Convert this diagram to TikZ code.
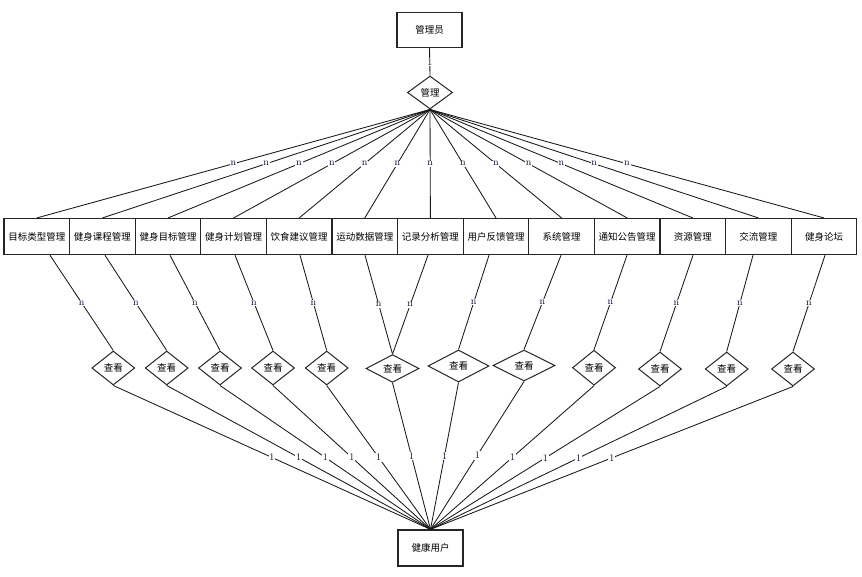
\documentclass[tikz,border=0pt]{standalone}
\usepackage{fontspec}
\newfontfamily\cjk{Noto Sans CJK SC}
\usetikzlibrary{shapes.geometric,calc}
\begin{document}
\begin{tikzpicture}[x=1pt,y=-1pt,
  entity/.style={draw=black!85, line width=1.3pt, minimum width=65.6pt, minimum height=36pt, inner sep=0pt, fill=white, font=\cjk\fontsize{9.5}{10}\selectfont},
  rel/.style={diamond, draw=black!85, line width=1pt, inner sep=0pt, fill=white, font=\cjk\fontsize{9.5}{10}\selectfont},
  lbl/.style={fill=white, inner sep=0.8pt, text=black!75!blue, font=\fontsize{10}{10}\selectfont},
  conn/.style={line width=0.85pt, draw=black!90}]
\fill[white] (0,0) rectangle (862,577);
\useasboundingbox (0,0) rectangle (862,577);

% admin and relation
\node[entity, minimum width=65pt, minimum height=35pt] (admin) at (429.5,30) {管理员};
\node[rel, minimum width=45pt, minimum height=33pt] (manage) at (430,92.5) {管理};
\draw[conn] (admin.south) -- node[lbl]{1} (manage.north);

% row of entities
\foreach \t [count=\i] in {目标类型管理,健身课程管理,健身目标管理,健身计划管理,饮食建议管理,运动数据管理,记录分析管理,用户反馈管理,系统管理,通知公告管理,资源管理,交流管理,健身论坛} {
  \node[entity] (b\i) at ({4+65.6*(\i-0.5)},236.6) {\t};
}
\foreach \i in {1,...,13} {
  \draw[conn] (manage.south) -- node[lbl]{n} (b\i.north);
}

% view relations
\foreach \x/\y/\w/\h [count=\i] in {
  113.3/368/43pt/34pt, 166.7/368/43pt/34pt, 220/368/43pt/34pt, 273/368/43pt/34pt,
  326.7/368/43pt/34pt, 392.5/368.5/53pt/27pt, 458.5/366/61pt/32pt, 524/365.5/62pt/31pt,
  594/367.7/43pt/35pt, 660/369/43pt/34pt, 726.7/369/43pt/34pt, 793/369/43pt/34pt} {
  \node[rel, minimum width=\w, minimum height=\h] (d\i) at (\x,\y) {查看};
}

% health user
\node[entity, minimum width=65pt, minimum height=36pt] (user) at (430.5,548) {健康用户};

% entity -> view relation
\foreach \b/\dx/\d in {1/13.2/1, 2/2.6/2, 3/2/3, 4/1.4/4, 5/0.8/5, 6/0.2/6, 7/-2.4/6,
  8/-7/7, 9/-0.6/8, 10/-0.2/9, 11/0.2/10, 12/-5.4/11, 13/1/12} {
  \draw[conn] ([xshift=\dx pt]b\b.south) -- node[lbl]{n} (d\d.north);
}

% view relation -> user
\foreach \i in {1,...,12} {
  \draw[conn] (d\i.south) -- node[lbl]{1} (user.north);
}
\end{tikzpicture}
\end{document}
